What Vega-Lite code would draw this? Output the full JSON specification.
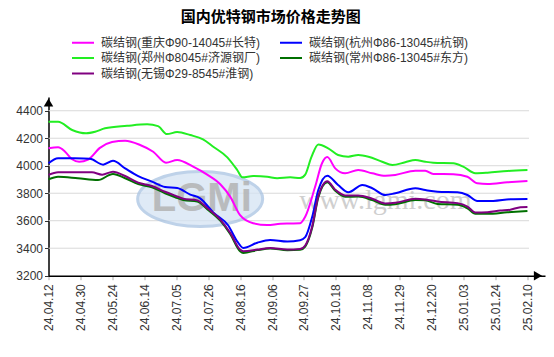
{
  "$schema": "https://vega.github.io/schema/vega-lite/v6.json",
  "width": 496.5,
  "height": 178.7,
  "autosize": {"type": "none"},
  "padding": {"left": 48.5, "top": 97, "right": 9, "bottom": 81.3},
  "background": "white",
  "config": {
    "font": "Liberation Sans, Noto Sans CJK SC",
    "view": {"stroke": null},
    "axis": {"labelFont": "Liberation Sans", "labelFontSize": 12, "labelColor": "#333333", "domainColor": "#000000", "domainWidth": 1.5, "grid": false, "title": null},
    "axisX": {"tickColor": "#aaaaaa", "tickSize": 4, "labelPadding": 4, "labelAngle": -90},
    "axisY": {"tickColor": "#333333", "tickSize": 4, "labelPadding": 2, "format": "d"}
  },
  "title": {
    "text": "国内优特钢市场价格走势图",
    "font": "Noto Sans CJK SC",
    "fontSize": 15,
    "fontWeight": "bold",
    "color": "#000000",
    "anchor": "middle",
    "dx": -26,
    "offset": 11
  },
  "layer": [
    {
      "data": {"values": [{"g": 3400}, {"g": 3600}, {"g": 3800}, {"g": 4000}, {"g": 4200}, {"g": 4400}]},
      "mark": {"type": "rule", "color": "#d9d9d9", "strokeWidth": 1},
      "encoding": {
        "y": {"field": "g", "type": "quantitative", "scale": {"domain": [3200, 4500], "nice": false, "zero": false}},
        "x": {"datum": 0, "type": "quantitative", "scale": {"domain": [0, 15.55], "nice": false, "zero": false}},
        "x2": {"datum": 15.05}
      }
    },
    {
      "data": {"values": [{"w": "logo"}]},
      "mark": {"type": "point", "shape": "M-1,0A1,0.44,0,1,0,1,0A1,0.44,0,1,0,-1,0Z", "filled": true, "fill": "#d5e3f3", "stroke": "#a9c3e2", "strokeWidth": 3, "opacity": 0.75, "size": 15625},
      "encoding": {
        "x": {"datum": 4.75, "type": "quantitative", "scale": {"domain": [0, 15.55], "nice": false, "zero": false}},
        "y": {"datum": 3758, "type": "quantitative", "scale": {"domain": [3200, 4500], "nice": false, "zero": false}}
      }
    },
    {
      "data": {"values": [{"w": "LGMi"}]},
      "mark": {"type": "text", "font": "Liberation Sans", "fontSize": 40, "fontWeight": "bold", "color": "#b0b0b0", "opacity": 0.8},
      "encoding": {
        "text": {"field": "w"},
        "x": {"datum": 4.8, "type": "quantitative", "scale": {"domain": [0, 15.55], "nice": false, "zero": false}},
        "y": {"datum": 3760, "type": "quantitative", "scale": {"domain": [3200, 4500], "nice": false, "zero": false}}
      }
    },
    {
      "data": {"values": [{"w": "www.lgmi.com"}]},
      "mark": {"type": "text", "font": "Liberation Serif", "fontSize": 28, "color": "#c4c4c4", "opacity": 0.8},
      "encoding": {
        "text": {"field": "w"},
        "x": {"datum": 10.55, "type": "quantitative", "scale": {"domain": [0, 15.55], "nice": false, "zero": false}},
        "y": {"datum": 3743, "type": "quantitative", "scale": {"domain": [3200, 4500], "nice": false, "zero": false}}
      }
    },
    {
      "data": {"values": [
        {"s": "碳结钢(重庆Φ90-14045#长特)", "i": 0, "v": 4127},
        {"s": "碳结钢(重庆Φ90-14045#长特)", "i": 0.30, "v": 4134},
        {"s": "碳结钢(重庆Φ90-14045#长特)", "i": 0.52, "v": 4102},
        {"s": "碳结钢(重庆Φ90-14045#长特)", "i": 0.74, "v": 4047},
        {"s": "碳结钢(重庆Φ90-14045#长特)", "i": 0.96, "v": 4029},
        {"s": "碳结钢(重庆Φ90-14045#长特)", "i": 1.24, "v": 4045},
        {"s": "碳结钢(重庆Φ90-14045#长特)", "i": 1.61, "v": 4130},
        {"s": "碳结钢(重庆Φ90-14045#长特)", "i": 1.99, "v": 4172},
        {"s": "碳结钢(重庆Φ90-14045#长特)", "i": 2.40, "v": 4182},
        {"s": "碳结钢(重庆Φ90-14045#长特)", "i": 2.87, "v": 4151},
        {"s": "碳结钢(重庆Φ90-14045#长特)", "i": 3.28, "v": 4102},
        {"s": "碳结钢(重庆Φ90-14045#长特)", "i": 3.68, "v": 4022},
        {"s": "碳结钢(重庆Φ90-14045#长特)", "i": 4.03, "v": 4042},
        {"s": "碳结钢(重庆Φ90-14045#长特)", "i": 4.53, "v": 3993},
        {"s": "碳结钢(重庆Φ90-14045#长特)", "i": 4.97, "v": 3935},
        {"s": "碳结钢(重庆Φ90-14045#长特)", "i": 5.38, "v": 3865},
        {"s": "碳结钢(重庆Φ90-14045#长特)", "i": 5.69, "v": 3775},
        {"s": "碳结钢(重庆Φ90-14045#长特)", "i": 6.00, "v": 3640},
        {"s": "碳结钢(重庆Φ90-14045#长特)", "i": 6.41, "v": 3581},
        {"s": "碳结钢(重庆Φ90-14045#长特)", "i": 6.85, "v": 3568},
        {"s": "碳结钢(重庆Φ90-14045#长特)", "i": 7.26, "v": 3578},
        {"s": "碳结钢(重庆Φ90-14045#长特)", "i": 7.57, "v": 3580},
        {"s": "碳结钢(重庆Φ90-14045#长特)", "i": 7.88, "v": 3582},
        {"s": "碳结钢(重庆Φ90-14045#长特)", "i": 8.04, "v": 3629},
        {"s": "碳结钢(重庆Φ90-14045#长特)", "i": 8.35, "v": 3847},
        {"s": "碳结钢(重庆Φ90-14045#长特)", "i": 8.57, "v": 4020},
        {"s": "碳结钢(重庆Φ90-14045#长特)", "i": 8.73, "v": 4063},
        {"s": "碳结钢(重庆Φ90-14045#长特)", "i": 8.98, "v": 3981},
        {"s": "碳结钢(重庆Φ90-14045#长特)", "i": 9.29, "v": 3945},
        {"s": "碳结钢(重庆Φ90-14045#长特)", "i": 9.70, "v": 3969},
        {"s": "碳结钢(重庆Φ90-14045#长特)", "i": 10.14, "v": 3945},
        {"s": "碳结钢(重庆Φ90-14045#长特)", "i": 10.55, "v": 3927},
        {"s": "碳结钢(重庆Φ90-14045#长特)", "i": 10.86, "v": 3933},
        {"s": "碳结钢(重庆Φ90-14045#长特)", "i": 11.49, "v": 3964},
        {"s": "碳结钢(重庆Φ90-14045#长特)", "i": 11.80, "v": 3964},
        {"s": "碳结钢(重庆Φ90-14045#长特)", "i": 12.05, "v": 3940},
        {"s": "碳结钢(重庆Φ90-14045#长特)", "i": 12.68, "v": 3938},
        {"s": "碳结钢(重庆Φ90-14045#长特)", "i": 13.12, "v": 3920},
        {"s": "碳结钢(重庆Φ90-14045#长特)", "i": 13.43, "v": 3872},
        {"s": "碳结钢(重庆Φ90-14045#长特)", "i": 13.75, "v": 3867},
        {"s": "碳结钢(重庆Φ90-14045#长特)", "i": 14.37, "v": 3879},
        {"s": "碳结钢(重庆Φ90-14045#长特)", "i": 15, "v": 3889},

        {"s": "碳结钢(杭州Φ86-13045#杭钢)", "i": 0, "v": 4018},
        {"s": "碳结钢(杭州Φ86-13045#杭钢)", "i": 0.30, "v": 4055},
        {"s": "碳结钢(杭州Φ86-13045#杭钢)", "i": 0.74, "v": 4054},
        {"s": "碳结钢(杭州Φ86-13045#杭钢)", "i": 1.30, "v": 4050},
        {"s": "碳结钢(杭州Φ86-13045#杭钢)", "i": 1.71, "v": 4008},
        {"s": "碳结钢(杭州Φ86-13045#杭钢)", "i": 2.02, "v": 4036},
        {"s": "碳结钢(杭州Φ86-13045#杭钢)", "i": 2.40, "v": 3981},
        {"s": "碳结钢(杭州Φ86-13045#杭钢)", "i": 2.81, "v": 3925},
        {"s": "碳结钢(杭州Φ86-13045#杭钢)", "i": 3.24, "v": 3884},
        {"s": "碳结钢(杭州Φ86-13045#杭钢)", "i": 3.65, "v": 3845},
        {"s": "碳结钢(杭州Φ86-13045#杭钢)", "i": 4.03, "v": 3838},
        {"s": "碳结钢(杭州Φ86-13045#杭钢)", "i": 4.44, "v": 3790},
        {"s": "碳结钢(杭州Φ86-13045#杭钢)", "i": 4.75, "v": 3763},
        {"s": "碳结钢(杭州Φ86-13045#杭钢)", "i": 5.16, "v": 3660},
        {"s": "碳结钢(杭州Φ86-13045#杭钢)", "i": 5.63, "v": 3565},
        {"s": "碳结钢(杭州Φ86-13045#杭钢)", "i": 5.91, "v": 3450},
        {"s": "碳结钢(杭州Φ86-13045#杭钢)", "i": 6.10, "v": 3402},
        {"s": "碳结钢(杭州Φ86-13045#杭钢)", "i": 6.54, "v": 3440},
        {"s": "碳结钢(杭州Φ86-13045#杭钢)", "i": 6.94, "v": 3460},
        {"s": "碳结钢(杭州Φ86-13045#杭钢)", "i": 7.48, "v": 3448},
        {"s": "碳结钢(杭州Φ86-13045#杭钢)", "i": 7.88, "v": 3458},
        {"s": "碳结钢(杭州Φ86-13045#杭钢)", "i": 8.04, "v": 3480},
        {"s": "碳结钢(杭州Φ86-13045#杭钢)", "i": 8.26, "v": 3629},
        {"s": "碳结钢(杭州Φ86-13045#杭钢)", "i": 8.45, "v": 3823},
        {"s": "碳结钢(杭州Φ86-13045#杭钢)", "i": 8.73, "v": 3927},
        {"s": "碳结钢(杭州Φ86-13045#杭钢)", "i": 9.07, "v": 3860},
        {"s": "碳结钢(杭州Φ86-13045#杭钢)", "i": 9.39, "v": 3807},
        {"s": "碳结钢(杭州Φ86-13045#杭钢)", "i": 9.83, "v": 3860},
        {"s": "碳结钢(杭州Φ86-13045#杭钢)", "i": 10.14, "v": 3836},
        {"s": "碳结钢(杭州Φ86-13045#杭钢)", "i": 10.55, "v": 3787},
        {"s": "碳结钢(杭州Φ86-13045#杭钢)", "i": 10.86, "v": 3800},
        {"s": "碳结钢(杭州Φ86-13045#杭钢)", "i": 11.49, "v": 3836},
        {"s": "碳结钢(杭州Φ86-13045#杭钢)", "i": 11.80, "v": 3823},
        {"s": "碳结钢(杭州Φ86-13045#杭钢)", "i": 12.18, "v": 3811},
        {"s": "碳结钢(杭州Φ86-13045#杭钢)", "i": 12.81, "v": 3807},
        {"s": "碳结钢(杭州Φ86-13045#杭钢)", "i": 13.12, "v": 3787},
        {"s": "碳结钢(杭州Φ86-13045#杭钢)", "i": 13.43, "v": 3744},
        {"s": "碳结钢(杭州Φ86-13045#杭钢)", "i": 13.93, "v": 3744},
        {"s": "碳结钢(杭州Φ86-13045#杭钢)", "i": 14.46, "v": 3756},
        {"s": "碳结钢(杭州Φ86-13045#杭钢)", "i": 15, "v": 3758},

        {"s": "碳结钢(郑州Φ8045#济源钢厂)", "i": 0, "v": 4320},
        {"s": "碳结钢(郑州Φ8045#济源钢厂)", "i": 0.30, "v": 4320},
        {"s": "碳结钢(郑州Φ8045#济源钢厂)", "i": 0.74, "v": 4260},
        {"s": "碳结钢(郑州Φ8045#济源钢厂)", "i": 1.18, "v": 4236},
        {"s": "碳结钢(郑州Φ8045#济源钢厂)", "i": 1.46, "v": 4247},
        {"s": "碳结钢(郑州Φ8045#济源钢厂)", "i": 1.77, "v": 4272},
        {"s": "碳结钢(郑州Φ8045#济源钢厂)", "i": 2.46, "v": 4290},
        {"s": "碳结钢(郑州Φ8045#济源钢厂)", "i": 3.09, "v": 4301},
        {"s": "碳结钢(郑州Φ8045#济源钢厂)", "i": 3.43, "v": 4288},
        {"s": "碳结钢(郑州Φ8045#济源钢厂)", "i": 3.71, "v": 4230},
        {"s": "碳结钢(郑州Φ8045#济源钢厂)", "i": 4.03, "v": 4245},
        {"s": "碳结钢(郑州Φ8045#济源钢厂)", "i": 4.44, "v": 4223},
        {"s": "碳结钢(郑州Φ8045#济源钢厂)", "i": 4.84, "v": 4192},
        {"s": "碳结钢(郑州Φ8045#济源钢厂)", "i": 5.16, "v": 4138},
        {"s": "碳结钢(郑州Φ8045#济源钢厂)", "i": 5.60, "v": 4061},
        {"s": "碳结钢(郑州Φ8045#济源钢厂)", "i": 5.91, "v": 3969},
        {"s": "碳结钢(郑州Φ8045#济源钢厂)", "i": 6.07, "v": 3916},
        {"s": "碳结钢(郑州Φ8045#济源钢厂)", "i": 6.41, "v": 3925},
        {"s": "碳结钢(郑州Φ8045#济源钢厂)", "i": 6.85, "v": 3920},
        {"s": "碳结钢(郑州Φ8045#济源钢厂)", "i": 7.16, "v": 3909},
        {"s": "碳结钢(郑州Φ8045#济源钢厂)", "i": 7.57, "v": 3916},
        {"s": "碳结钢(郑州Φ8045#济源钢厂)", "i": 7.88, "v": 3910},
        {"s": "碳结钢(郑州Φ8045#济源钢厂)", "i": 8.04, "v": 3935},
        {"s": "碳结钢(郑州Φ8045#济源钢厂)", "i": 8.23, "v": 4060},
        {"s": "碳结钢(郑州Φ8045#济源钢厂)", "i": 8.45, "v": 4155},
        {"s": "碳结钢(郑州Φ8045#济源钢厂)", "i": 8.76, "v": 4127},
        {"s": "碳结钢(郑州Φ8045#济源钢厂)", "i": 9.07, "v": 4078},
        {"s": "碳结钢(郑州Φ8045#济源钢厂)", "i": 9.39, "v": 4066},
        {"s": "碳结钢(郑州Φ8045#济源钢厂)", "i": 9.70, "v": 4078},
        {"s": "碳结钢(郑州Φ8045#济源钢厂)", "i": 10.02, "v": 4066},
        {"s": "碳结钢(郑州Φ8045#济源钢厂)", "i": 10.45, "v": 4029},
        {"s": "碳结钢(郑州Φ8045#济源钢厂)", "i": 10.77, "v": 4005},
        {"s": "碳结钢(郑州Φ8045#济源钢厂)", "i": 11.17, "v": 4025},
        {"s": "碳结钢(郑州Φ8045#济源钢厂)", "i": 11.49, "v": 4042},
        {"s": "碳结钢(郑州Φ8045#济源钢厂)", "i": 11.80, "v": 4029},
        {"s": "碳结钢(郑州Φ8045#济源钢厂)", "i": 12.05, "v": 4022},
        {"s": "碳结钢(郑州Φ8045#济源钢厂)", "i": 12.68, "v": 4018},
        {"s": "碳结钢(郑州Φ8045#济源钢厂)", "i": 12.99, "v": 3993},
        {"s": "碳结钢(郑州Φ8045#济源钢厂)", "i": 13.37, "v": 3945},
        {"s": "碳结钢(郑州Φ8045#济源钢厂)", "i": 13.75, "v": 3949},
        {"s": "碳结钢(郑州Φ8045#济源钢厂)", "i": 14.37, "v": 3962},
        {"s": "碳结钢(郑州Φ8045#济源钢厂)", "i": 15, "v": 3969},

        {"s": "碳结钢(常州Φ86-13045#东方)", "i": 0, "v": 3901},
        {"s": "碳结钢(常州Φ86-13045#东方)", "i": 0.30, "v": 3920},
        {"s": "碳结钢(常州Φ86-13045#东方)", "i": 0.92, "v": 3909},
        {"s": "碳结钢(常州Φ86-13045#东方)", "i": 1.55, "v": 3896},
        {"s": "碳结钢(常州Φ86-13045#东方)", "i": 2.02, "v": 3940},
        {"s": "碳结钢(常州Φ86-13045#东方)", "i": 2.40, "v": 3909},
        {"s": "碳结钢(常州Φ86-13045#东方)", "i": 2.81, "v": 3867},
        {"s": "碳结钢(常州Φ86-13045#东方)", "i": 3.24, "v": 3843},
        {"s": "碳结钢(常州Φ86-13045#东方)", "i": 3.65, "v": 3800},
        {"s": "碳结钢(常州Φ86-13045#东方)", "i": 3.97, "v": 3771},
        {"s": "碳结钢(常州Φ86-13045#东方)", "i": 4.22, "v": 3750},
        {"s": "碳结钢(常州Φ86-13045#东方)", "i": 4.66, "v": 3740},
        {"s": "碳结钢(常州Φ86-13045#东方)", "i": 4.97, "v": 3684},
        {"s": "碳结钢(常州Φ86-13045#东方)", "i": 5.38, "v": 3600},
        {"s": "碳结钢(常州Φ86-13045#东方)", "i": 5.69, "v": 3503},
        {"s": "碳结钢(常州Φ86-13045#东方)", "i": 6.00, "v": 3378},
        {"s": "碳结钢(常州Φ86-13045#东方)", "i": 6.10, "v": 3366},
        {"s": "碳结钢(常州Φ86-13045#东方)", "i": 6.54, "v": 3386},
        {"s": "碳结钢(常州Φ86-13045#东方)", "i": 6.94, "v": 3398},
        {"s": "碳结钢(常州Φ86-13045#东方)", "i": 7.48, "v": 3385},
        {"s": "碳结钢(常州Φ86-13045#东方)", "i": 7.88, "v": 3388},
        {"s": "碳结钢(常州Φ86-13045#东方)", "i": 8.04, "v": 3412},
        {"s": "碳结钢(常州Φ86-13045#东方)", "i": 8.26, "v": 3550},
        {"s": "碳结钢(常州Φ86-13045#东方)", "i": 8.45, "v": 3770},
        {"s": "碳结钢(常州Φ86-13045#东方)", "i": 8.73, "v": 3880},
        {"s": "碳结钢(常州Φ86-13045#东方)", "i": 8.98, "v": 3818},
        {"s": "碳结钢(常州Φ86-13045#东方)", "i": 9.29, "v": 3774},
        {"s": "碳结钢(常州Φ86-13045#东方)", "i": 9.70, "v": 3776},
        {"s": "碳结钢(常州Φ86-13045#东方)", "i": 10.14, "v": 3750},
        {"s": "碳结钢(常州Φ86-13045#东方)", "i": 10.55, "v": 3716},
        {"s": "碳结钢(常州Φ86-13045#东方)", "i": 10.86, "v": 3720},
        {"s": "碳结钢(常州Φ86-13045#东方)", "i": 11.49, "v": 3750},
        {"s": "碳结钢(常州Φ86-13045#东方)", "i": 11.80, "v": 3748},
        {"s": "碳结钢(常州Φ86-13045#东方)", "i": 12.18, "v": 3722},
        {"s": "碳结钢(常州Φ86-13045#东方)", "i": 12.81, "v": 3716},
        {"s": "碳结钢(常州Φ86-13045#东方)", "i": 13.12, "v": 3690},
        {"s": "碳结钢(常州Φ86-13045#东方)", "i": 13.37, "v": 3650},
        {"s": "碳结钢(常州Φ86-13045#东方)", "i": 13.75, "v": 3650},
        {"s": "碳结钢(常州Φ86-13045#东方)", "i": 14.37, "v": 3661},
        {"s": "碳结钢(常州Φ86-13045#东方)", "i": 15, "v": 3671},

        {"s": "碳结钢(无锡Φ29-8545#淮钢)", "i": 0, "v": 3933},
        {"s": "碳结钢(无锡Φ29-8545#淮钢)", "i": 0.30, "v": 3952},
        {"s": "碳结钢(无锡Φ29-8545#淮钢)", "i": 0.92, "v": 3952},
        {"s": "碳结钢(无锡Φ29-8545#淮钢)", "i": 1.36, "v": 3952},
        {"s": "碳结钢(无锡Φ29-8545#淮钢)", "i": 1.68, "v": 3935},
        {"s": "碳结钢(无锡Φ29-8545#淮钢)", "i": 2.02, "v": 3957},
        {"s": "碳结钢(无锡Φ29-8545#淮钢)", "i": 2.40, "v": 3925},
        {"s": "碳结钢(无锡Φ29-8545#淮钢)", "i": 2.81, "v": 3877},
        {"s": "碳结钢(无锡Φ29-8545#淮钢)", "i": 3.24, "v": 3853},
        {"s": "碳结钢(无锡Φ29-8545#淮钢)", "i": 3.65, "v": 3811},
        {"s": "碳结钢(无锡Φ29-8545#淮钢)", "i": 3.97, "v": 3782},
        {"s": "碳结钢(无锡Φ29-8545#淮钢)", "i": 4.22, "v": 3760},
        {"s": "碳结钢(无锡Φ29-8545#淮钢)", "i": 4.66, "v": 3748},
        {"s": "碳结钢(无锡Φ29-8545#淮钢)", "i": 4.97, "v": 3692},
        {"s": "碳结钢(无锡Φ29-8545#淮钢)", "i": 5.38, "v": 3608},
        {"s": "碳结钢(无锡Φ29-8545#淮钢)", "i": 5.69, "v": 3512},
        {"s": "碳结钢(无锡Φ29-8545#淮钢)", "i": 6.00, "v": 3390},
        {"s": "碳结钢(无锡Φ29-8545#淮钢)", "i": 6.10, "v": 3378},
        {"s": "碳结钢(无锡Φ29-8545#淮钢)", "i": 6.54, "v": 3390},
        {"s": "碳结钢(无锡Φ29-8545#淮钢)", "i": 6.94, "v": 3402},
        {"s": "碳结钢(无锡Φ29-8545#淮钢)", "i": 7.48, "v": 3390},
        {"s": "碳结钢(无锡Φ29-8545#淮钢)", "i": 7.88, "v": 3394},
        {"s": "碳结钢(无锡Φ29-8545#淮钢)", "i": 8.04, "v": 3420},
        {"s": "碳结钢(无锡Φ29-8545#淮钢)", "i": 8.26, "v": 3560},
        {"s": "碳结钢(无锡Φ29-8545#淮钢)", "i": 8.45, "v": 3778},
        {"s": "碳结钢(无锡Φ29-8545#淮钢)", "i": 8.73, "v": 3888},
        {"s": "碳结钢(无锡Φ29-8545#淮钢)", "i": 8.98, "v": 3826},
        {"s": "碳结钢(无锡Φ29-8545#淮钢)", "i": 9.29, "v": 3784},
        {"s": "碳结钢(无锡Φ29-8545#淮钢)", "i": 9.70, "v": 3784},
        {"s": "碳结钢(无锡Φ29-8545#淮钢)", "i": 10.14, "v": 3760},
        {"s": "碳结钢(无锡Φ29-8545#淮钢)", "i": 10.55, "v": 3726},
        {"s": "碳结钢(无锡Φ29-8545#淮钢)", "i": 10.86, "v": 3730},
        {"s": "碳结钢(无锡Φ29-8545#淮钢)", "i": 11.49, "v": 3760},
        {"s": "碳结钢(无锡Φ29-8545#淮钢)", "i": 11.80, "v": 3755},
        {"s": "碳结钢(无锡Φ29-8545#淮钢)", "i": 12.18, "v": 3740},
        {"s": "碳结钢(无锡Φ29-8545#淮钢)", "i": 12.81, "v": 3728},
        {"s": "碳结钢(无锡Φ29-8545#淮钢)", "i": 13.12, "v": 3703},
        {"s": "碳结钢(无锡Φ29-8545#淮钢)", "i": 13.37, "v": 3660},
        {"s": "碳结钢(无锡Φ29-8545#淮钢)", "i": 13.75, "v": 3662},
        {"s": "碳结钢(无锡Φ29-8545#淮钢)", "i": 14.15, "v": 3674},
        {"s": "碳结钢(无锡Φ29-8545#淮钢)", "i": 14.46, "v": 3680},
        {"s": "碳结钢(无锡Φ29-8545#淮钢)", "i": 14.78, "v": 3698},
        {"s": "碳结钢(无锡Φ29-8545#淮钢)", "i": 15, "v": 3700}
      ]},
      "mark": {"type": "line", "interpolate": "monotone", "strokeWidth": 2},
      "encoding": {
        "x": {"field": "i", "type": "quantitative", "scale": {"domain": [0, 15.55], "nice": false, "zero": false},
          "axis": {"values": [0, 1, 2, 3, 4, 5, 6, 7, 8, 9, 10, 11, 12, 13, 14, 15], "tickCount": 40, "labelOverlap": false, "labelFlush": false,
            "labelExpr": "['24.04.12','24.04.30','24.05.24','24.06.14','24.07.05','24.07.26','24.08.16','24.09.06','24.09.27','24.10.18','24.11.08','24.11.29','24.12.20','25.01.03','25.01.24','25.02.10'][datum.value]"}},
        "y": {"field": "v", "type": "quantitative", "scale": {"domain": [3200, 4500], "nice": false, "zero": false},
          "axis": {"values": [3200, 3400, 3600, 3800, 4000, 4200, 4400], "tickCount": 20, "labelOverlap": false, "labelFlush": false}},
        "color": {"field": "s", "type": "nominal",
          "scale": {
            "domain": ["碳结钢(重庆Φ90-14045#长特)", "碳结钢(郑州Φ8045#济源钢厂)", "碳结钢(无锡Φ29-8545#淮钢)", "碳结钢(杭州Φ86-13045#杭钢)", "碳结钢(常州Φ86-13045#东方)"],
            "range": ["#ff00ff", "#22ee22", "#800080", "#0000ff", "#007000"]
          },
          "legend": {"orient": "none", "legendX": 28, "legendY": -61, "padding": 0, "columns": 2, "title": null, "symbolType": "M-2,0H2", "symbolStrokeWidth": 2, "symbolSize": 121, "symbolFillColor": "transparent", "labelFontSize": 12, "labelColor": "#333333", "labelFont": "Liberation Sans, Noto Sans CJK SC", "labelOffset": 11.5, "columnPadding": 15, "rowPadding": 2.5, "labelLimit": 300}
        }
      }
    },
    {
      "data": {"values": [{"a": "x"}]},
      "mark": {"type": "point", "shape": "triangle-right", "filled": true, "color": "#000000", "opacity": 1, "size": 90},
      "encoding": {
        "x": {"datum": 15.33, "type": "quantitative", "scale": {"domain": [0, 15.55], "nice": false, "zero": false}},
        "y": {"datum": 3200, "type": "quantitative", "scale": {"domain": [3200, 4500], "nice": false, "zero": false}}
      }
    },
    {
      "data": {"values": [{"a": "y"}]},
      "mark": {"type": "point", "shape": "triangle-up", "filled": true, "color": "#000000", "opacity": 1, "size": 90},
      "encoding": {
        "x": {"datum": 0, "type": "quantitative", "scale": {"domain": [0, 15.55], "nice": false, "zero": false}},
        "y": {"datum": 4460, "type": "quantitative", "scale": {"domain": [3200, 4500], "nice": false, "zero": false}}
      }
    }
  ]
}
